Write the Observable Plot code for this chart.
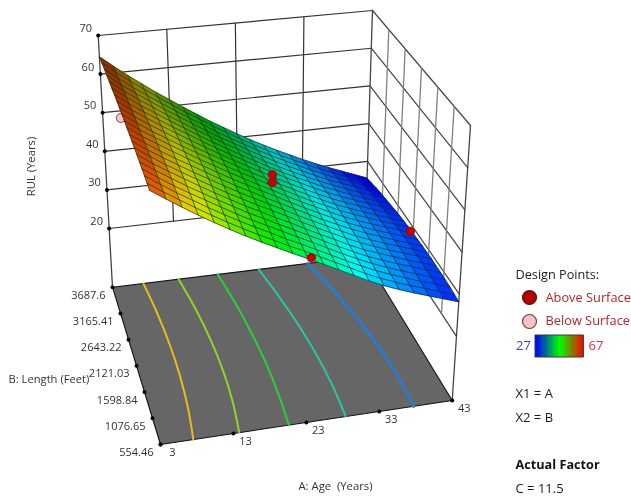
<!DOCTYPE html>
<html>
<head>
<meta charset="utf-8">
<script src="https://cdn.jsdelivr.net/npm/d3@7"></script>
<script src="https://cdn.jsdelivr.net/npm/@observablehq/plot@0.6"></script>
<style>html,body{margin:0;padding:0;background:#fff}svg{display:block;filter:blur(0.3px)}</style>
</head>
<body>
<div id="chart"></div>
<script>
// ---------- data ----------
const ageTicks = [3, 13, 23, 33, 43];
const lengthTicks = [554.46, 1076.65, 1598.84, 2121.03, 2643.22, 3165.41, 3687.6];
const rulTicks = [20, 30, 40, 50, 60, 70];
const rulFloor = 4.8;

const meshAges = [3,5,7,9,11,13,15,17,19,21,23,25,27,29,31,33,35,37,39,41,43];
const meshLengths = [554.46,711.12,867.77,1024.43,1181.09,1337.75,1494.40,1651.06,1807.72,1964.37,2121.03,2277.69,2434.35,2591,2747.66,2904.32,3060.97,3217.63,3374.29,3530.94,3687.6];
// RUL on the mesh: one row per age, one column per length
const rul = [
[64.0,64.1,64.3,64.4,64.5,64.6,64.7,64.7,64.8,64.8,64.9,64.9,64.9,64.9,64.9,64.8,64.8,64.7,64.7,64.6,64.5],
[61.5,61.6,61.8,61.9,62.0,62.1,62.2,62.2,62.3,62.3,62.3,62.3,62.3,62.3,62.2,62.2,62.1,62.0,61.9,61.8,61.7],
[59.1,59.3,59.4,59.5,59.7,59.8,59.8,59.9,59.9,60.0,60.0,59.9,59.9,59.9,59.8,59.7,59.6,59.5,59.3,59.2,59.0],
[56.8,57.0,57.2,57.3,57.4,57.6,57.6,57.7,57.7,57.8,57.8,57.7,57.7,57.6,57.5,57.4,57.3,57.1,56.9,56.7,56.5],
[54.6,54.8,55.0,55.2,55.3,55.4,55.5,55.5,55.6,55.6,55.6,55.5,55.4,55.4,55.2,55.1,54.9,54.7,54.5,54.3,54.0],
[52.5,52.7,52.9,53.1,53.2,53.3,53.4,53.5,53.5,53.5,53.4,53.4,53.3,53.2,53.1,52.9,52.7,52.5,52.3,52.0,51.7],
[50.5,50.7,50.9,51.0,51.2,51.3,51.3,51.4,51.4,51.4,51.4,51.3,51.2,51.1,50.9,50.7,50.5,50.3,50.0,49.7,49.4],
[48.6,48.8,49.0,49.1,49.2,49.3,49.4,49.4,49.4,49.4,49.4,49.3,49.2,49.0,48.8,48.6,48.4,48.1,47.9,47.6,47.2],
[46.8,47.0,47.2,47.3,47.4,47.5,47.5,47.5,47.5,47.5,47.4,47.3,47.2,47.0,46.8,46.6,46.3,46.0,45.7,45.4,45.0],
[45.0,45.2,45.3,45.5,45.6,45.6,45.7,45.7,45.6,45.6,45.5,45.4,45.2,45.1,44.9,44.6,44.4,44.1,43.7,43.4,43.0],
[43.3,43.5,43.6,43.7,43.8,43.9,43.9,43.9,43.8,43.8,43.7,43.5,43.4,43.2,43.0,42.7,42.4,42.1,41.8,41.4,41.0],
[41.5,41.7,41.8,41.9,42.0,42.0,42.0,42.0,42.0,41.9,41.8,41.7,41.5,41.3,41.1,40.8,40.5,40.2,39.9,39.5,39.1],
[39.7,39.9,40.0,40.1,40.2,40.2,40.2,40.2,40.2,40.1,40.0,39.9,39.7,39.5,39.3,39.0,38.7,38.4,38.1,37.7,37.3],
[37.9,38.1,38.2,38.3,38.4,38.5,38.5,38.5,38.4,38.4,38.3,38.1,38.0,37.8,37.6,37.3,37.0,36.7,36.4,36.0,35.6],
[36.1,36.3,36.5,36.6,36.7,36.7,36.8,36.8,36.8,36.7,36.6,36.5,36.3,36.1,35.9,35.7,35.4,35.1,34.8,34.4,34.0],
[34.5,34.7,34.9,35.0,35.1,35.1,35.2,35.2,35.2,35.1,35.0,34.9,34.7,34.5,34.3,34.1,33.8,33.5,33.2,32.8,32.4],
[33.1,33.3,33.5,33.6,33.7,33.8,33.8,33.8,33.8,33.7,33.6,33.5,33.3,33.1,32.9,32.7,32.4,32.0,31.7,31.3,30.9],
[31.8,32.0,32.2,32.3,32.4,32.5,32.5,32.5,32.5,32.4,32.3,32.2,32.0,31.8,31.6,31.3,31.0,30.7,30.3,29.9,29.5],
[30.6,30.8,30.9,31.1,31.2,31.2,31.3,31.3,31.2,31.2,31.1,30.9,30.7,30.5,30.3,30.0,29.7,29.4,29.0,28.6,28.2],
[29.4,29.6,29.8,29.9,30.0,30.1,30.1,30.1,30.0,30.0,29.9,29.7,29.5,29.3,29.1,28.8,28.5,28.1,27.8,27.3,26.9],
[28.2,28.4,28.6,28.7,28.8,28.8,28.9,28.8,28.8,28.7,28.6,28.5,28.3,28.1,27.8,27.5,27.2,26.9,26.5,26.0,25.6]
];

// design points
const aboveAge = [23, 23, 23.4, 43];
const aboveLength = [2121, 2121, 554.46, 2215];
const aboveRul = [47.5, 45.6, 43.4, 28.1];
const belowAge = [3];
const belowLength = [2371];
const belowRul = [63];

// contours on the floor: age at six stops along the length
const contourLengths = [3687.6, 3061, 2434, 1808, 1181, 554.46];
const contourAges = [
  [7.9, 8.46, 8.7, 8.62, 8.22, 7.5],
  [13.5, 14.33, 14.77, 14.83, 14.51, 13.8],
  [19.7, 20.5, 20.96, 21.14, 21.0, 20.6],
  [26.2, 27.34, 28.14, 28.58, 28.66, 28.4],
  [34, 35.64, 36.82, 37.56, 37.86, 37.7]
];
const contourColors = ["#e6bc1e", "#8fd428", "#2ecb3e", "#2fc2a4", "#2e78c4"];
const contourWidths = [2, 2, 2, 2, 3.2];

// legend
const barStops = ["#0000ff", "#00ff00", "#ff0000"];
const barRange = [27, 67];

// surface lighting: overall dimming and how far the back darkens, by age
const shadeAges = [3, 13, 23, 33, 43];
const shadeBase = [0.1, 0.1, 0.05, 0, 0];
const shadeAmounts = [0.38, 0.34, 0.3, 0.12, 0.06];

// ---------- layout: where the box's eight corners fall on the page ----------
const box = {
  floor: {backLeft:[112,286.7], backRight:[364,256], frontRight:[451.7,400], frontLeft:[160,444]},
  top:   {backLeft:[97.7,35],   backRight:[372,10],  frontRight:[470,125],   frontLeft:[148,164]}
};
const ageNorm = d3.scaleLinear().domain([3, 43]).range([0, 1]);
const lenNorm = d3.scaleLinear().domain([554.46, 3687.6]).range([0, 1]);
const rulNorm = d3.scaleLinear().domain([rulFloor, 70]).range([0, 1]);
const shadeOf = d3.scaleLinear().domain(shadeAges).range(shadeAmounts);
const baseOf = d3.scaleLinear().domain(shadeAges).range(shadeBase);

function project(age, len, z) {
  const a = ageNorm(age), l = lenNorm(len), h = rulNorm(z);
  const bi = (c, k) =>
    (1 - a) * (1 - l) * c.frontLeft[k] + a * (1 - l) * c.frontRight[k] +
    (1 - a) * l * c.backLeft[k] + a * l * c.backRight[k];
  return {
    x: (1 - h) * bi(box.floor, 0) + h * bi(box.top, 0),
    y: (1 - h) * bi(box.floor, 1) + h * bi(box.top, 1)
  };
}
const ageMin = 3, ageMax = 43, lenMin = 554.46, lenMax = 3687.6, zTop = 70;

function pathRecords(id, pts) {
  return pts.map(([a, l, z]) => ({id, ...project(a, l, z)}));
}

// walls
const wallBack = [], wallSide = [];
for (const z of rulTicks) {
  wallBack.push(...pathRecords("bz" + z, [[ageMin, lenMax, z], [ageMax, lenMax, z]]));
  wallSide.push(...pathRecords("sz" + z, [[ageMax, lenMax, z], [ageMax, lenMin, z]]));
}
const wallBackV = [], wallSideV = [];
for (const a of ageTicks.slice(1, -1)) wallBackV.push(...pathRecords("ba" + a, [[a, lenMax, 20], [a, lenMax, zTop]]));
for (const l of lengthTicks.slice(1, -1)) wallSideV.push(...pathRecords("sl" + l, [[ageMax, l, 20], [ageMax, l, zTop]]));
const cornerV = [
  ...pathRecords("c1", [[ageMin, lenMax, rulFloor], [ageMin, lenMax, zTop]]),
  ...pathRecords("c2", [[ageMax, lenMax, rulFloor], [ageMax, lenMax, zTop]]),
  ...pathRecords("c3", [[ageMax, lenMin, rulFloor], [ageMax, lenMin, zTop]])
];
const floor = pathRecords("floor", [
  [ageMin, lenMax, rulFloor], [ageMax, lenMax, rulFloor],
  [ageMax, lenMin, rulFloor], [ageMin, lenMin, rulFloor], [ageMin, lenMax, rulFloor]
]);
const contours = contourAges.flatMap((c, i) =>
  pathRecords(i, c.map((a, k) => [a, contourLengths[k], rulFloor])).map(d => ({...d, color: contourColors[i], w: contourWidths[i]})));

// surface
const cells = [], meshLines = [];
for (let i = 0; i < meshAges.length - 1; i++) {
  for (let j = 0; j < meshLengths.length - 1; j++) {
    const corners = [[i, j], [i + 1, j], [i + 1, j + 1], [i, j + 1], [i, j]];
    const v = d3.mean(corners.slice(0, 4), ([p, q]) => rul[p][q]);
    const midAge = (meshAges[i] + meshAges[i + 1]) / 2;
    corners.forEach(([p, q]) => cells.push({
      id: i + "_" + j, v,
      shade: baseOf(midAge) + shadeOf(midAge) * j / 19,
      ...project(meshAges[p], meshLengths[q], rul[p][q])
    }));
  }
}
meshAges.forEach((a, i) => meshLines.push(...pathRecords("a" + i, meshLengths.map((l, j) => [a, l, rul[i][j]]))));
meshLengths.forEach((l, j) => meshLines.push(...pathRecords("l" + j, meshAges.map((a, i) => [a, l, rul[i][j]]))));

const pointsOf = (A, L, Z) => A.map((a, i) => project(a, L[i], Z[i]));
const above = pointsOf(aboveAge, aboveLength, aboveRul);
const below = pointsOf(belowAge, belowLength, belowRul);

// ticks
const rulTickPts = rulTicks.map(z => ({...project(ageMin, lenMax, z), label: String(z)}));
const lenTickPts = lengthTicks.map(l => ({...project(ageMin, l, rulFloor), label: String(l)}));
const ageTickPts = ageTicks.map(a => ({...project(a, lenMin, rulFloor), label: String(a)}));

// legend layout
const font = "'Open Sans', 'Noto Sans', sans-serif";
const ink = "#333";
const notes = [
  {text: "Design Points:", x: 515, y: 274, fill: "#1c1c1c", size: 12.7},
  {text: "Above Surface", x: 545, y: 297, fill: "#b3262e", size: 12.8},
  {text: "Below Surface", x: 545, y: 320, fill: "#b3262e", size: 12.8},
  {text: "27", x: 515.5, y: 345.5, fill: "#3f3fd0", size: 13},
  {text: "67", x: 588, y: 345.5, fill: "#e0323a", size: 13},
  {text: "X1 = A", x: 515, y: 393, fill: "#1c1c1c", size: 13},
  {text: "X2 = B", x: 515, y: 417, fill: "#1c1c1c", size: 13},
  {text: "Actual Factor", x: 515, y: 464, fill: "#111", size: 12.7, weight: "bold"},
  {text: "C = 11.5", x: 515, y: 488, fill: "#1c1c1c", size: 13}
];
const barX = d3.scaleLinear().domain(barRange).range([535, 583]);
const barColor = d3.scaleLinear().domain([27, 47, 67]).range(barStops);
const barCells = d3.range(27, 67, 1).map(v => ({v}));

const txt = (d, o) => Plot.text(d, {fontFamily: font, ...o});

const chart = Plot.plot({
  width: 631, height: 497, margin: 0,
  style: {background: "#fff"},
  x: {domain: [0, 631], range: [0, 631], axis: null},
  y: {domain: [0, 497], range: [0, 497], axis: null},
  color: {type: "linear", domain: [27, 37, 47, 57, 67], range: ["#0000ff", "#00ffff", "#00ff00", "#ffff00", "#ff0000"]},
  marks: [
    // walls
    Plot.line(wallBack, {x: "x", y: "y", z: "id", stroke: "#333", strokeWidth: 1.2}),
    Plot.line(wallBackV, {x: "x", y: "y", z: "id", stroke: "#333", strokeWidth: 1.2}),
    Plot.line(wallSide, {x: "x", y: "y", z: "id", stroke: "#444", strokeWidth: 1.2}),
    Plot.line(wallSideV, {x: "x", y: "y", z: "id", stroke: "#808080", strokeWidth: 1.3}),
    Plot.line(cornerV, {x: "x", y: "y", z: "id", stroke: "#444", strokeWidth: 1.3}),
    // floor and contours
    Plot.line(floor, {x: "x", y: "y", fill: "#666666", stroke: "#111", strokeWidth: 1.1}),
    Plot.line(contours, {x: "x", y: "y", z: "id", stroke: d => d.color, strokeWidth: d => d.w, curve: "catmull-rom"}),
    // below-surface point is hidden by the surface where they overlap
    Plot.dot(below, {x: "x", y: "y", r: 4.5, fill: "#f7c5c5", stroke: "#8a4a4a", strokeWidth: 1}),
    // surface
    Plot.line(cells, {x: "x", y: "y", z: "id", fill: "v", stroke: "v", strokeWidth: 0.6}),
    Plot.line(cells, {x: "x", y: "y", z: "id", fill: "#000", fillOpacity: "shade", stroke: "none"}),
    Plot.line(meshLines, {x: "x", y: "y", z: "id", stroke: "#10241c", strokeOpacity: 0.75, strokeWidth: 0.9}),
    // design points above
    Plot.dot(above, {x: "x", y: "y", r: 4.3, fill: "#c40000", stroke: "#7a1414", strokeWidth: 0.8}),
    // ticks
    Plot.dot(rulTickPts, {x: "x", y: "y", r: 2, fill: "#000"}),
    Plot.dot(lenTickPts, {x: "x", y: "y", r: 2, fill: "#000"}),
    Plot.dot(ageTickPts, {x: "x", y: "y", r: 2, fill: "#000"}),
    txt(rulTickPts, {x: "x", y: "y", text: "label", dx: -12.5, dy: -7, fontSize: 11, fill: ink}),
    txt(lenTickPts, {x: "x", y: "y", text: "label", dx: -7, dy: 8, textAnchor: "end", fontSize: 11, fill: ink}),
    txt(ageTickPts, {x: "x", y: "y", text: "label", dx: 12, dy: 8, fontSize: 11, fill: ink}),
    // axis titles
    txt([{t: "RUL (Years)", x: 31, y: 166}], {x: "x", y: "y", text: "t", rotate: -90, fontSize: 11.3, fill: ink}),
    txt([{t: "B: Length (Feet)", x: 8, y: 379}], {x: "x", y: "y", text: "t", textAnchor: "start", fontSize: 11.2, fill: ink}),
    txt([{t: "A: Age  (Years)", x: 335, y: 485.5}], {x: "x", y: "y", text: "t", fontSize: 11.3, fill: ink}),
    // legend
    Plot.dot([{x: 529, y: 297}], {x: "x", y: "y", r: 7, fill: "#b00000", stroke: "#5a1010", strokeWidth: 1.2}),
    Plot.dot([{x: 529, y: 321}], {x: "x", y: "y", r: 7, fill: "#f9c3c3", stroke: "#5a4a4a", strokeWidth: 1.2}),
    Plot.rect(barCells, {
      x1: d => barX(d.v), x2: d => barX(d.v + 1) + 1,
      y1: () => 335, y2: () => 357,
      fill: {value: d => barColor(d.v), scale: null},
      shapeRendering: "crispEdges"
    }),
    Plot.rect([{}], {x1: () => barX(27), x2: () => barX(67), y1: () => 335, y2: () => 357, fill: "none", stroke: "#3a3a3a", strokeWidth: 1}),
    ...notes.map(n => txt([n], {
      x: "x", y: "y", text: "text", textAnchor: "start",
      fontSize: n.size, fontWeight: n.weight || "normal", fill: n.fill
    }))
  ]
});
document.getElementById("chart").append(chart);
</script>
</body>
</html>
